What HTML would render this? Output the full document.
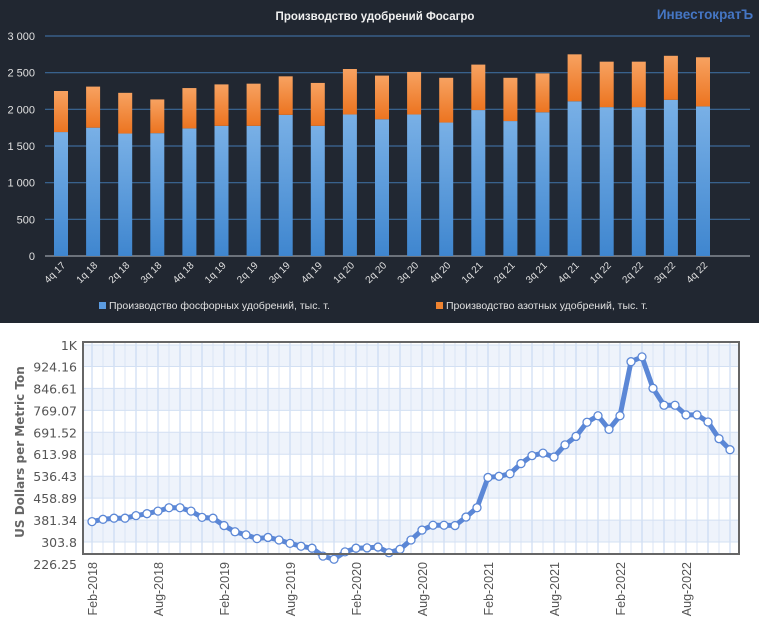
<!DOCTYPE html>
<html><head><meta charset="utf-8">
<style>
html,body{margin:0;padding:0;background:#fff;}
body{width:759px;height:643px;overflow:hidden;position:relative;}
svg{position:absolute;left:0;top:0;}
</style></head>
<body>
<svg id="top" width="759" height="323" viewBox="0 0 759 323" style="top:0">
  <defs>
    <linearGradient id="gb" x1="0" y1="0" x2="0" y2="1"><stop offset="0" stop-color="#79b0e6"/><stop offset="1" stop-color="#3f86cf"/></linearGradient>
    <linearGradient id="go" x1="0" y1="0" x2="0" y2="1"><stop offset="0" stop-color="#f7a261"/><stop offset="1" stop-color="#ec7420"/></linearGradient>
  </defs>
  <rect x="0" y="0" width="759" height="323" fill="#212731"/>
  <text x="375" y="20" text-anchor="middle" font-family="Liberation Sans, sans-serif" font-weight="bold" font-size="11.5" fill="#f0f0f0">Производство удобрений Фосагро</text>
  <text x="705" y="19" text-anchor="middle" font-family="Liberation Sans, sans-serif" font-weight="bold" font-size="13.5" fill="#4576c4">ИнвестократЪ</text>
  <g id="tgrid"></g>
  <g id="tbars"></g>
  <g id="txl"></g>
  <rect x="99" y="302" width="7" height="7" fill="#5b9be0"/>
  <text x="109" y="309" font-family="Liberation Sans, sans-serif" font-size="10.5" fill="#e0e0e0">Производство фосфорных удобрений, тыс. т.</text>
  <rect x="436" y="302" width="7" height="7" fill="#ef8330"/>
  <text x="446" y="309" font-family="Liberation Sans, sans-serif" font-size="10.5" fill="#e0e0e0">Производство азотных удобрений, тыс. т.</text>
</svg>

<svg id="bot" width="759" height="320" viewBox="0 323 759 320" style="top:323px">
  <rect x="0" y="323" width="759" height="320" fill="#fff"/>
  <g id="bgrid"></g>
  <g id="bline"></g>
  <rect x="83" y="342" width="656" height="212" fill="none" stroke="#666" stroke-width="2"/>
  <g id="bylab"></g>
  <g id="bxlab"></g>
  <text transform="translate(24,452) rotate(-90)" text-anchor="middle" font-family="DejaVu Sans, sans-serif" font-weight="bold" font-size="12" fill="#666">US Dollars per Metric Ton</text>
</svg>

<script>
// ---- top chart data ----
const quarters = ["4q 17","1q 18","2q 18","3q 18","4q 18","1q 19","2q 19","3q 19","4q 19","1q 20","2q 20","3q 20","4q 20","1q 21","2q 21","3q 21","4q 21","1q 22","2q 22","3q 22","4q 22"];
const phosphate = [1690,1750,1670,1675,1740,1775,1775,1925,1775,1930,1865,1930,1820,1990,1840,1960,2110,2030,2030,2130,2040];
const nitrogen = [560,560,555,460,550,565,575,525,585,620,595,580,610,620,590,530,640,620,620,600,670];
const topTicks = [0,500,1000,1500,2000,2500,3000];
const topTickLabels = ["0","500","1 000","1 500","2 000","2 500","3 000"];

// ---- bottom chart data ----
const priceValues = [376,384,388,388,397,404,413,425,425,413,391,388,362,340,329,316,320,311,299,289,282,254,243,269,282,283,286,
266,278,311,346,363,363,362,392,425,532,536,545,581,609,618,604,647,677,727,750,702,750,941,958,847,787,787,753,753,728,669,630];
const priceTicks = [226.25,303.8,381.34,458.89,536.43,613.98,691.52,769.07,846.61,924.16,1000];
const priceTickLabels = ["226.25","303.8","381.34","458.89","536.43","613.98","691.52","769.07","846.61","924.16","1K"];
const xLabels = ["Feb-2018","Aug-2018","Feb-2019","Aug-2019","Feb-2020","Aug-2020","Feb-2021","Aug-2021","Feb-2022","Aug-2022"];

const NS="http://www.w3.org/2000/svg";
function mk(tag, attrs, parent){const e=document.createElementNS(NS,tag);for(const k in attrs)e.setAttribute(k,attrs[k]);parent.appendChild(e);return e;}

// top scales
const tY = v => 256 - v*(220/3000);
const tX = i => 61 + i*32.1;
const tg=document.getElementById('tgrid');
topTicks.forEach((t,i)=>{
  const l=mk('line',{x1:45,x2:750,y1:tY(t),y2:tY(t),stroke:i===0?'#9aa0a8':'#3c6a9a','stroke-width':1.2},tg);
  
  
  const tx=mk('text',{x:35,y:tY(t)+4,'text-anchor':'end','font-family':'Liberation Sans, sans-serif','font-size':11,fill:'#e0e0e0'},tg);
  tx.textContent=topTickLabels[i];
  
  
});
const tb=document.getElementById('tbars');
const txl=document.getElementById('txl');
quarters.forEach((q,i)=>{
  const cx=tX(i), w=14;
  const b=mk('rect',{x:cx-w/2,y:tY(phosphate[i]),width:w,height:tY(0)-tY(phosphate[i]),fill:'url(#gb)'},tb);
  
  
  const top=phosphate[i]+nitrogen[i];
  const o=mk('rect',{x:cx-w/2,y:tY(top),width:w,height:tY(phosphate[i])-tY(top),fill:'url(#go)'},tb);
  
  
  const t=mk('text',{transform:`translate(${cx+5},${266}) rotate(-45)`,'text-anchor':'end','font-family':'Liberation Sans, sans-serif','font-size':10,fill:'#e0e0e0'},txl);
  t.textContent=q;
  
  
});

// bottom scales
const bY = v => 345 + (1000 - v)*0.283;
const bX = i => 92 + i*11;
const bg=document.getElementById('bgrid');
for(let k=0;k<priceTicks.length-1;k++){
  if(k%2===1){
    const r=mk('rect',{x:83,y:bY(priceTicks[k+1]),width:656,height:bY(priceTicks[k])-bY(priceTicks[k+1]),fill:'#eef3fb'},bg);
    
    
  }
}
for(let i=-1;i<=(priceValues.length);i++){
  const x=bX(i); if(x<84||x>738) continue;
  const l=mk('line',{x1:x,x2:x,y1:342,y2:554,stroke:i%2===0?'#c3d6f0':'#dbe6f6','stroke-width':1},bg);
  
  
}
const byl=document.getElementById('bylab');
priceTicks.forEach((t,i)=>{
  const y=bY(t);
  if(y>343&&y<553){
    const l=mk('line',{x1:83,x2:739,y1:y,y2:y,stroke:'#d3e0f3','stroke-width':1},bg);
    
    
  }
  const tx=mk('text',{x:77,y:y+5,'text-anchor':'end','font-family':'DejaVu Sans, sans-serif','font-size':12.5,fill:'#555'},byl);
  tx.textContent=priceTickLabels[i];
  
  
});
const bl=document.getElementById('bline');
const pts=priceValues.map((v,i)=>bX(i)+','+bY(v)).join(' ');
const pl=mk('polyline',{points:pts,fill:'none',stroke:'#5b87d6','stroke-width':5,'stroke-linejoin':'round'},bl);


priceValues.forEach((v,i)=>{
  const c=mk('circle',{cx:bX(i),cy:bY(v),r:4,fill:'#fff',stroke:'#5b87d6','stroke-width':1.3},bl);
  
  
});
const bxl=document.getElementById('bxlab');
xLabels.forEach((s,k)=>{
  const x=bX(k*6);
  const t=mk('text',{transform:`translate(${x+5},562) rotate(-90)`,'text-anchor':'end','font-family':'Liberation Sans, sans-serif','font-size':12.5,fill:'#555'},bxl);
  t.textContent=s;
  
  
});
</script>
</body></html>
